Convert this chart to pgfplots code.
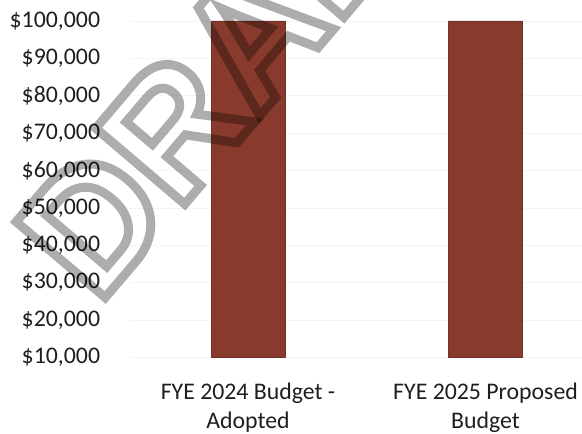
\documentclass[border=0pt]{standalone}
\usepackage{pgfplots}
\pgfplotsset{compat=1.18}
\usepackage{fontspec}
\setmainfont{Carlito}
\newfontfamily\wmfont{Liberation Sans}

\definecolor{barbrown}{RGB}{136,58,44}
\definecolor{labelgray}{RGB}{30,30,30}

\begin{document}
\begin{tikzpicture}
\useasboundingbox (0pt,0pt) rectangle (582pt,434pt);
\begin{axis}[
    at={(129.25pt,76.5pt)}, anchor=south west,
    scale only axis,
    width=452.75pt, height=336.5pt,
    xmin=-0.5, xmax=1.406,
    ymin=10000, ymax=100000,
    axis line style={draw=none},
    major tick length=0pt,
    ytick={10000,20000,...,100000},
    ymajorgrids,
    grid style={black!4, line width=0.6pt},
    xtick={0,1},
    xticklabels={{FYE 2024 Budget -\\Adopted},{FYE 2025 Proposed\\Budget}},
    yticklabel={\$\pgfmathprintnumber{\tick}},
    /pgf/number format/.cd, fixed, 1000 sep={,}, assume math mode=true, /pgfplots/.cd,
    scaled y ticks=false,
    yticklabel style={anchor=east, inner sep=0pt, xshift=-29pt, text=labelgray,
        font=\fontsize{23.8}{29}\selectfont},
    xticklabel style={anchor=north, inner sep=0pt, yshift=-25pt, align=center,
        text=labelgray, font=\fontsize{23.8}{29}\selectfont},
    clip=false,
]
\addplot[ybar, bar width=74pt, fill=barbrown, draw=barbrown!85!black, line width=0.6pt, bar shift=0pt]
    coordinates {(0,100000) (1,100000)};
\end{axis}
% DRAFT watermark (outlined text)
\node[rotate=49.6, text=black, opacity=0.32, inner sep=0pt] at (240pt,385pt)
    {\wmfont\bfseries\fontsize{170}{170}\selectfont\special{pdf:literal direct 1 Tr 9 w}DRAFT\special{pdf:literal direct 0 Tr}};
\end{tikzpicture}
\end{document}
